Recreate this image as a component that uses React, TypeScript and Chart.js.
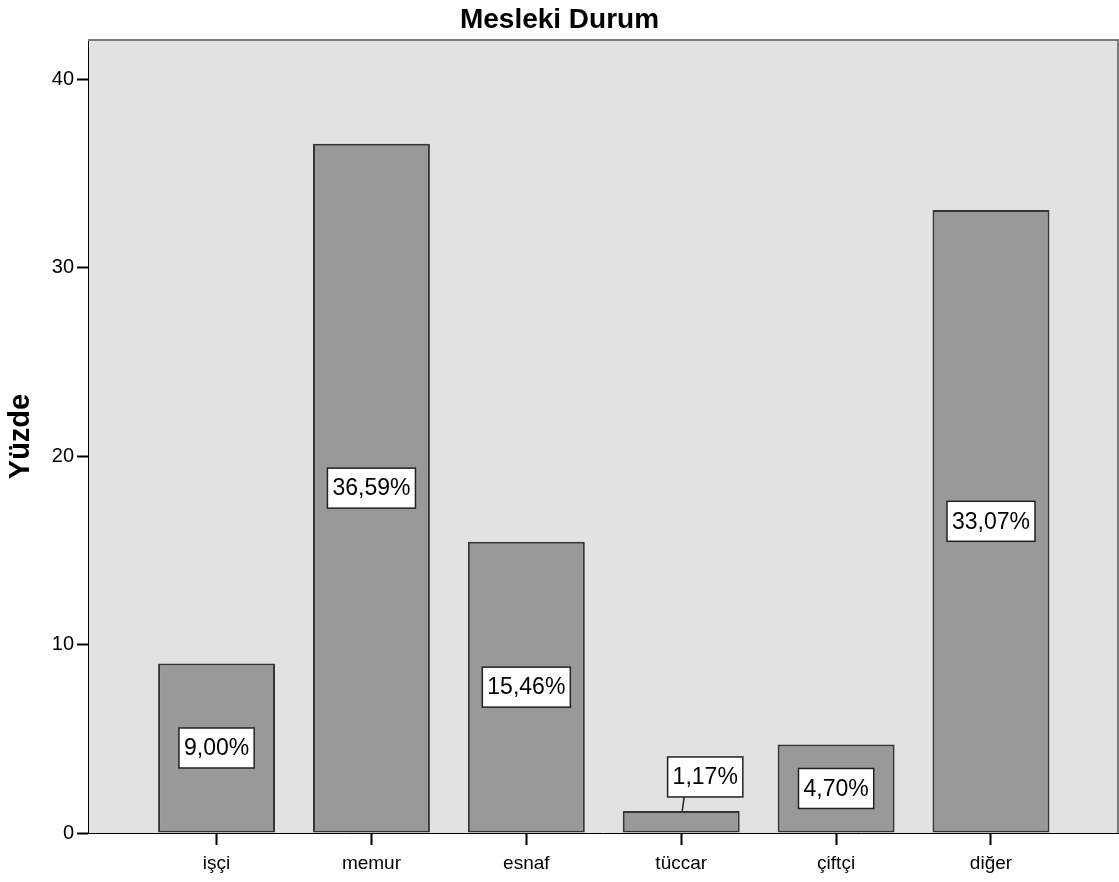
import React, { useEffect, useRef } from "react";
import { Chart, registerables } from "chart.js";

Chart.register(...registerables);

const chartTitle = "Mesleki Durum";
const yAxisTitle = "Yüzde";
const categories = ["işçi", "memur", "esnaf", "tüccar", "çiftçi", "diğer"];
const percentValues = [9.0, 36.59, 15.46, 1.17, 4.7, 33.07];
const percentLabels = ["9,00%", "36,59%", "15,46%", "1,17%", "4,70%", "33,07%"];
const yTickValues = [0, 10, 20, 30, 40];

const FONT = "'Liberation Sans', Arial, sans-serif";

const backgroundPlugin = {
  id: "spssFrame",
  beforeDraw(chart: any) {
    const { ctx, chartArea } = chart;
    ctx.save();
    ctx.fillStyle = "#e2e2e2";
    ctx.fillRect(chartArea.left, chartArea.top, chartArea.right - chartArea.left, chartArea.bottom - chartArea.top);
    ctx.restore();
  },
  afterDraw(chart: any) {
    const { ctx, chartArea, width } = chart;
    ctx.save();
    ctx.strokeStyle = "#7a7a7a";
    ctx.lineWidth = 2;
    ctx.beginPath();
    ctx.moveTo(chartArea.left, chartArea.top);
    ctx.lineTo(chartArea.right, chartArea.top);
    ctx.lineTo(chartArea.right, chartArea.bottom);
    ctx.stroke();
    ctx.fillStyle = "#000";
    ctx.font = `bold 28px ${FONT}`;
    ctx.textAlign = "center";
    ctx.textBaseline = "alphabetic";
    ctx.fillText(chartTitle, width / 2, 28);
    ctx.restore();
  },
};

const labelPlugin = {
  id: "barLabels",
  afterDatasetsDraw(chart: any) {
    const { ctx } = chart;
    const meta = chart.getDatasetMeta(0);
    ctx.save();
    ctx.font = `23px ${FONT}`;
    ctx.textAlign = "center";
    ctx.textBaseline = "middle";
    meta.data.forEach((bar: any, i: number) => {
      const { x, y, base } = bar.getProps(["x", "y", "base"], true);
      const text = percentLabels[i];
      const tw = ctx.measureText(text).width;
      const bw = tw + 10;
      const bh = 40;
      const barH = base - y;
      let cx = x;
      let cy = (y + base) / 2;
      let leader = false;
      if (barH < bh + 10) {
        cx = x + 24;
        cy = y - 14 - bh / 2;
        leader = true;
      }
      if (leader) {
        ctx.strokeStyle = "#222";
        ctx.lineWidth = 1.5;
        ctx.beginPath();
        ctx.moveTo(x + 1, y);
        ctx.lineTo(x + 3, cy + bh / 2);
        ctx.stroke();
      }
      ctx.fillStyle = "#ffffff";
      ctx.fillRect(cx - bw / 2, cy - bh / 2, bw, bh);
      ctx.strokeStyle = "#222";
      ctx.lineWidth = 1.5;
      ctx.strokeRect(cx - bw / 2, cy - bh / 2, bw, bh);
      ctx.fillStyle = "#000";
      ctx.fillText(text, cx, cy + 1);
    });
    ctx.restore();
  },
};

export default function App() {
  const canvasRef = useRef<HTMLCanvasElement | null>(null);

  useEffect(() => {
    if (!canvasRef.current) return;
    const chart = new Chart(canvasRef.current, {
      type: "bar",
      data: {
        datasets: [
          {
            label: yAxisTitle,
            data: percentValues.map((v, i) => ({ x: i, y: v })),
            backgroundColor: "#999999",
            borderColor: "#353535",
            borderWidth: 2,
            borderSkipped: false,
            barPercentage: 0.755,
            categoryPercentage: 1,
          },
        ],
      },
      options: {
        responsive: false,
        animation: false,
        devicePixelRatio: 1,
        layout: { padding: { top: 40, right: 1, left: 0, bottom: 0 } },
        plugins: {
          legend: { display: false },
          tooltip: { enabled: false },
          title: { display: false },
        },
        scales: {
          x: {
            type: "linear",
            offset: false,
            min: -0.83,
            max: 5.82,
            ticks: {
              stepSize: 1,
              color: "#000",
              font: { family: FONT, size: 19 },
              padding: 7,
              maxRotation: 0,
              autoSkip: false,
              callback: (value: any) => categories[value as number] ?? "",
            },
            afterBuildTicks: (scale: any) => {
              scale.ticks = scale.ticks.filter(
                (t: any) => Number.isInteger(t.value) && t.value >= 0 && t.value < categories.length
              );
            },
            afterFit: (scale: any) => {
              scale.height = 49;
            },
            grid: {
              offset: false,
              drawOnChartArea: false,
              drawTicks: true,
              tickLength: 12,
              tickWidth: 2,
              tickColor: "#000",
            },
            border: { display: true, color: "#000", width: 1 },
          },
          y: {
            min: 0,
            max: 42.1,
            ticks: {
              stepSize: 10,
              color: "#000",
              font: { family: FONT, size: 20 },
              padding: 3,
              callback: (value: any) => String(value),
            },
            afterBuildTicks: (scale: any) => {
              scale.ticks = scale.ticks.filter((t: any) => yTickValues.includes(t.value));
            },
            afterFit: (scale: any) => {
              scale.width = 88;
            },
            title: {
              display: true,
              text: yAxisTitle,
              color: "#000",
              font: { family: FONT, size: 29, weight: "bold" },
              padding: { top: 4, bottom: 0 },
            },
            grid: {
              drawOnChartArea: false,
              drawTicks: true,
              tickLength: 11,
              tickWidth: 2,
              tickColor: "#000",
            },
            border: { display: true, color: "#000", width: 1 },
          },
        },
      },
      plugins: [backgroundPlugin, labelPlugin],
    });
    return () => chart.destroy();
  }, []);

  return (
    <div style={{ position: "absolute", left: 0, top: 0, width: 1119, height: 882 }}>
      <canvas ref={canvasRef} width={1119} height={882} />
    </div>
  );
}
